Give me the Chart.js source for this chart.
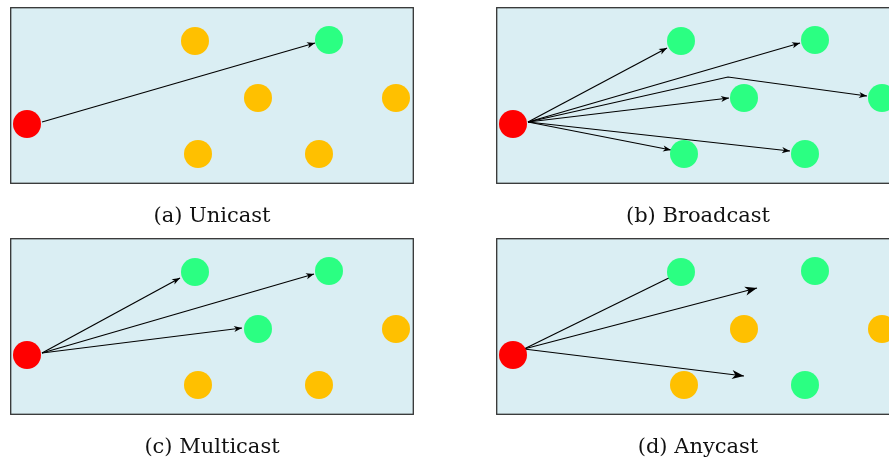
<!DOCTYPE html>
<html>
<head>
<meta charset="utf-8">
<script src="https://cdn.jsdelivr.net/npm/chart.js@4.4.1/dist/chart.umd.min.js"></script>
<style>
  html, body { margin: 0; padding: 0; background: #fff; width: 889px; height: 461px; overflow: hidden; }
  #wrap { position: relative; width: 889px; height: 461px; overflow: hidden; }
  canvas { position: absolute; }
</style>
</head>
<body>
<div id="wrap">
  <canvas id="pa" width="404" height="230" style="left:10px; top:7px;"></canvas>
  <canvas id="pb" width="404" height="230" style="left:496px; top:7px;"></canvas>
  <canvas id="pc" width="404" height="230" style="left:10px; top:238px;"></canvas>
  <canvas id="pd" width="404" height="230" style="left:496px; top:238px;"></canvas>
</div>
<script>
// panel captions
const captions = ['(a) Unicast', '(b) Broadcast', '(c) Multicast', '(d) Anycast'];

// node layout shared by all panels (panel units, y grows downwards)
const nodeX = [17, 185, 319, 248, 386, 188, 309];
const nodeY = [117, 34, 33, 91, 91, 147, 147];

// role of each node per panel: s = sender, r = receiver, n = not reached
const rolesA = ['s', 'n', 'r', 'n', 'n', 'n', 'n'];
const rolesB = ['s', 'r', 'r', 'r', 'r', 'r', 'r'];
const rolesC = ['s', 'r', 'r', 'r', 'n', 'n', 'n'];
const rolesD = ['s', 'r', 'r', 'n', 'n', 'n', 'r'];

// arrows: list of [x, y] points, first = tail, last = tip
const arrowsA = [
  [[32, 115], [305, 36]]
];
const arrowsB = [
  [[32, 115], [171, 41]],
  [[32, 115], [304, 36]],
  [[32, 115], [232, 70], [371, 89]],
  [[32, 115], [233, 91]],
  [[32, 115], [175, 143]],
  [[32, 115], [294, 144]]
];
const arrowsC = [
  [[32, 115], [170, 40]],
  [[32, 115], [304, 36]],
  [[32, 115], [232, 90]]
];
const arrowsD = [
  [[28, 111], [185, 34]],
  [[28, 111], [261, 50]],
  [[28, 111], [248, 138]]
];

const roleColor = { s: '#ff0000', r: '#2bff82', n: '#ffc000' };

// box background + frame
const boxPlugin = {
  id: 'box',
  beforeDatasetsDraw(chart) {
    const { ctx, chartArea: a } = chart;
    ctx.save();
    ctx.fillStyle = '#daeef3';
    ctx.fillRect(a.left, a.top, a.right - a.left, a.bottom - a.top);
    ctx.restore();
  },
  afterDraw(chart) {
    const { ctx, chartArea: a } = chart;
    ctx.save();
    ctx.strokeStyle = '#333';
    ctx.lineWidth = 1.3;
    ctx.strokeRect(a.left + 0.7, a.top + 0.7, a.right - a.left - 1.4, a.bottom - a.top - 1.4);
    ctx.restore();
  }
};

// arrow heads, drawn right after each arrow dataset so nodes can cover them
const headPlugin = {
  id: 'heads',
  afterDatasetDraw(chart, args) {
    const ds = chart.data.datasets[args.index];
    if (!ds.headLen) return;
    const pts = args.meta.data;
    const p = pts[pts.length - 1], q = pts[pts.length - 2];
    const ang = Math.atan2(p.y - q.y, p.x - q.x);
    const L = ds.headLen, W = ds.headLen * 0.38;
    const ctx = chart.ctx;
    ctx.save();
    ctx.translate(p.x, p.y);
    ctx.rotate(ang);
    ctx.fillStyle = '#000';
    ctx.beginPath();
    ctx.moveTo(0, 0);
    ctx.lineTo(-L, -W);
    ctx.lineTo(-L * 0.72, 0);
    ctx.lineTo(-L, W);
    ctx.closePath();
    ctx.fill();
    ctx.restore();
  }
};

function makePanel(id, caption, roles, arrows, headLen) {
  const datasets = [{
    type: 'scatter',
    data: nodeX.map((x, i) => ({ x: x, y: nodeY[i] })),
    pointBackgroundColor: roles.map(r => roleColor[r]),
    pointBorderWidth: 0,
    pointRadius: 14,
    clip: false,
    order: 0
  }];
  arrows.forEach(a => {
    datasets.push({
      type: 'line',
      data: a.map(p => ({ x: p[0], y: p[1] })),
      borderColor: '#000',
      borderWidth: 1.2,
      pointRadius: 0,
      tension: 0,
      fill: false,
      clip: false,
      headLen: headLen,
      order: 1
    });
  });

  new Chart(document.getElementById(id), {
    type: 'scatter',
    data: { datasets },
    options: {
      responsive: false,
      animation: false,
      events: [],
      layout: { padding: 0, autoPadding: false },
      scales: {
        x: { type: 'linear', min: 0, max: 404, display: false },
        y: { type: 'linear', min: 0, max: 177, reverse: true, display: false }
      },
      plugins: {
        legend: { display: false },
        tooltip: { enabled: false },
        title: {
          display: true,
          position: 'bottom',
          text: caption,
          color: '#111',
          font: { family: 'DejaVu Serif', size: 21, weight: 'normal', lineHeight: '24px' },
          padding: { top: 21, bottom: 8 }
        }
      }
    },
    plugins: [boxPlugin, headPlugin]
  });
}

makePanel('pa', captions[0], rolesA, arrowsA, 8);
makePanel('pb', captions[1], rolesB, arrowsB, 8);
makePanel('pc', captions[2], rolesC, arrowsC, 8);
makePanel('pd', captions[3], rolesD, arrowsD, 12);
</script>
</body>
</html>
